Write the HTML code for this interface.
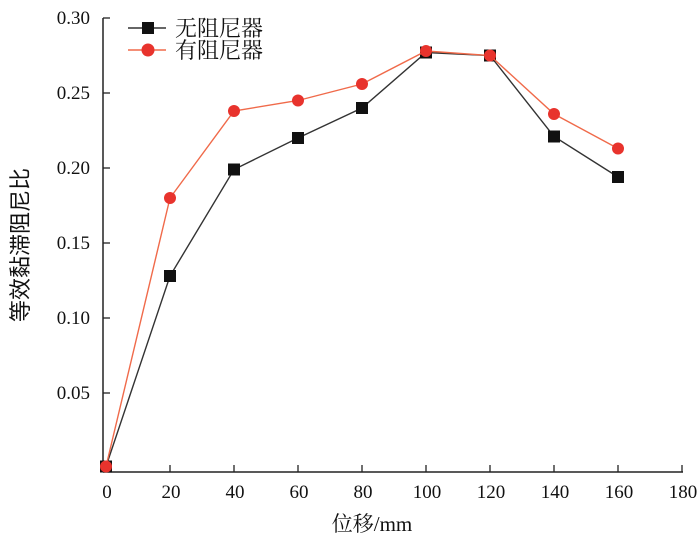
<!DOCTYPE html>
<html><head><meta charset="utf-8"><style>
body{margin:0;background:#fff}
text{font-family:"Liberation Serif","Noto Serif CJK SC",serif;fill:#111}
</style></head><body>
<svg id="chart" width="700" height="541" viewBox="0 0 700 541">
<g id="axes"></g><g id="series"></g>
<g>
<g>
<line x1="128" y1="28" x2="166" y2="28" stroke="#333" stroke-width="1.5"/>
<rect x="142" y="22" width="12" height="12" fill="#111"/>
<text x="175" y="36" font-size="22" style='font-family:"Noto Serif CJK SC",serif'>无阻尼器</text></g>
<g>
<line x1="128" y1="50" x2="166" y2="50" stroke="#f06a4a" stroke-width="1.5"/>
<circle cx="148" cy="50" r="6.5" fill="#e8332d"/>
<text x="175" y="58" font-size="22" style='font-family:"Noto Serif CJK SC",serif'>有阻尼器</text></g>
</g>
<text transform="translate(28,245) rotate(-90)" text-anchor="middle" font-size="22" style='font-family:"Noto Sans CJK SC",sans-serif'>等效黏滞阻尼比</text>
<text x="372" y="531" text-anchor="middle" font-size="21">位移/mm</text>
</svg>
<script>
const xValues=[0,20,40,60,80,100,120,140,160];
const noDamper=[0.001,0.128,0.199,0.220,0.240,0.277,0.275,0.221,0.194];
const withDamper=[0.001,0.180,0.238,0.245,0.256,0.278,0.275,0.236,0.213];
const xTicks=[0,20,40,60,80,100,120,140,160,180];
const yTicks=[0.05,0.10,0.15,0.20,0.25,0.30];
const NS="http://www.w3.org/2000/svg";
function X(v){return 106+v*3.2;}
function Y(v){return 468-v*1500;}
const axes=document.getElementById('axes'),ser=document.getElementById('series');
function mk(tag,attrs,parent){const e=document.createElementNS(NS,tag);for(const k in attrs)e.setAttribute(k,attrs[k]);parent.appendChild(e);return e;}
let yl=mk('line',{x1:103,y1:18,x2:103,y2:472,stroke:'#222','stroke-width':1.5},axes);


let xl=mk('line',{x1:103,y1:472,x2:683,y2:472,stroke:'#222','stroke-width':1.5},axes);


yTicks.forEach(v=>{mk('line',{x1:103,y1:Y(v),x2:110,y2:Y(v),stroke:'#222','stroke-width':1.3},axes);
let t=mk('text',{x:90,y:Y(v)+6,'text-anchor':'end','font-size':19},axes);t.textContent=v.toFixed(2);

});
xTicks.forEach(v=>{if(v>0)mk('line',{x1:X(v),y1:472,x2:X(v),y2:465,stroke:'#222','stroke-width':1.3},axes);
let t=mk('text',{x:X(v)+1,y:498,'text-anchor':'middle','font-size':19},axes);t.textContent=v;

});
function draw(vals,color,mcolor,shape,name){
const pts=vals.map((v,i)=>X(xValues[i])+','+Y(v)).join(' ');
let pl=mk('polyline',{points:pts,fill:'none',stroke:color,'stroke-width':1.4},ser);


vals.forEach((v,i)=>{let m;
if(shape==='sq')m=mk('rect',{x:X(xValues[i])-6,y:Y(v)-6,width:12,height:12,fill:mcolor},ser);
else m=mk('circle',{cx:X(xValues[i]),cy:Y(v),r:6,fill:mcolor},ser);

});}
draw(noDamper,'#333','#111','sq','no-damper');
draw(withDamper,'#f06a4a','#e8332d','c','with-damper');
</script>
</body></html>
